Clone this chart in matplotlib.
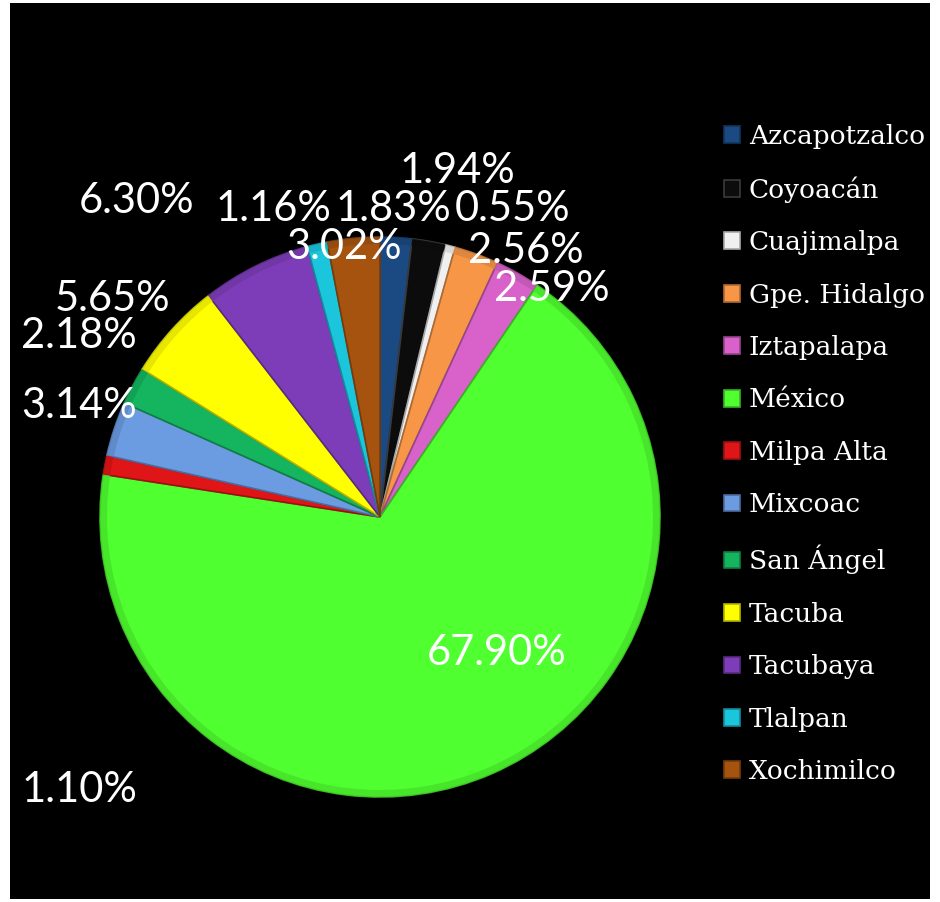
import matplotlib.pyplot as plt
from matplotlib.colors import to_rgb
from matplotlib.patches import Rectangle

# data
delegaciones = [
    "Azcapotzalco",
    "Coyoacán",
    "Cuajimalpa",
    "Gpe. Hidalgo",
    "Iztapalapa",
    "México",
    "Milpa Alta",
    "Mixcoac",
    "San Ángel",
    "Tacuba",
    "Tacubaya",
    "Tlalpan",
    "Xochimilco",
]
porcentajes = [1.83, 1.94, 0.55, 2.56, 2.59, 67.90, 1.10, 3.14, 2.18, 5.65, 6.30, 1.16, 3.02]

colores = [
    "#1b4a82",
    "#0c0c0c",
    "#f0f0f0",
    "#f79646",
    "#d862c9",
    "#50ff30",
    "#e01518",
    "#6b9be0",
    "#15b45e",
    "#ffff00",
    "#7d3db8",
    "#1bc6dc",
    "#a5530f",
]

# label centres in pixels from the top-left corner of the picture
pos_etiquetas = [
    (393, 209),
    (457, 171),
    (513, 209),
    (526, 251),
    (552, 289),
    (497, 653),
    (79, 790),
    (79, 406),
    (79, 336),
    (112, 299),
    (137, 201),
    (273, 209),
    (344, 247),
]

W, H = 940, 902


def oscurecer(color, f=0.7):
    r, g, b = to_rgb(color)
    return (r * f, g * f, b * f)


fig = plt.figure(figsize=(W / 100, H / 100), dpi=100, facecolor="white")
ax = fig.add_axes([0, 0, 1, 1])

ax.add_patch(Rectangle((10, 3), 920, 896, facecolor="black", edgecolor="none", zorder=0))

bordes = [oscurecer(c) if c != "#0c0c0c" else "#3a3a3a" for c in colores]
wedges, _ = ax.pie(
    porcentajes,
    colors=colores,
    startangle=90,
    counterclock=False,
    center=(380, H - 517),
    radius=280,
    frame=True,
)
for w, b in zip(wedges, bordes):
    w.set_edgecolor(b)
    w.set_linewidth(1.2)
    w.set_zorder(2)

# outer rim, a little darker, for the bevelled look
rim, _ = ax.pie(
    porcentajes,
    colors=[oscurecer(c, 0.88) for c in colores],
    startangle=90,
    counterclock=False,
    center=(380, H - 517),
    radius=280,
    wedgeprops=dict(width=7, edgecolor="none", alpha=0.8),
    frame=True,
)
for r in rim:
    r.set_zorder(3)

ax.set_xlim(0, W)
ax.set_ylim(0, H)
ax.set_aspect("equal")
ax.axis("off")

for valor, (x, y) in zip(porcentajes, pos_etiquetas):
    ax.text(x, H - y, f"{valor:.2f}%", color="white", fontsize=30,
            family="Lato", ha="center", va="center", zorder=5)

leg = ax.legend(
    wedges,
    delegaciones,
    loc="upper left",
    bbox_to_anchor=(700, H - 100),
    bbox_transform=ax.transData,
    frameon=False,
    prop={"family": "DejaVu Serif", "size": 19},
    labelcolor="white",
    handlelength=0.6,
    handleheight=0.6,
    handletextpad=0.35,
    labelspacing=1.04,
)

plt.savefig("out.png", dpi=100, facecolor="white")
